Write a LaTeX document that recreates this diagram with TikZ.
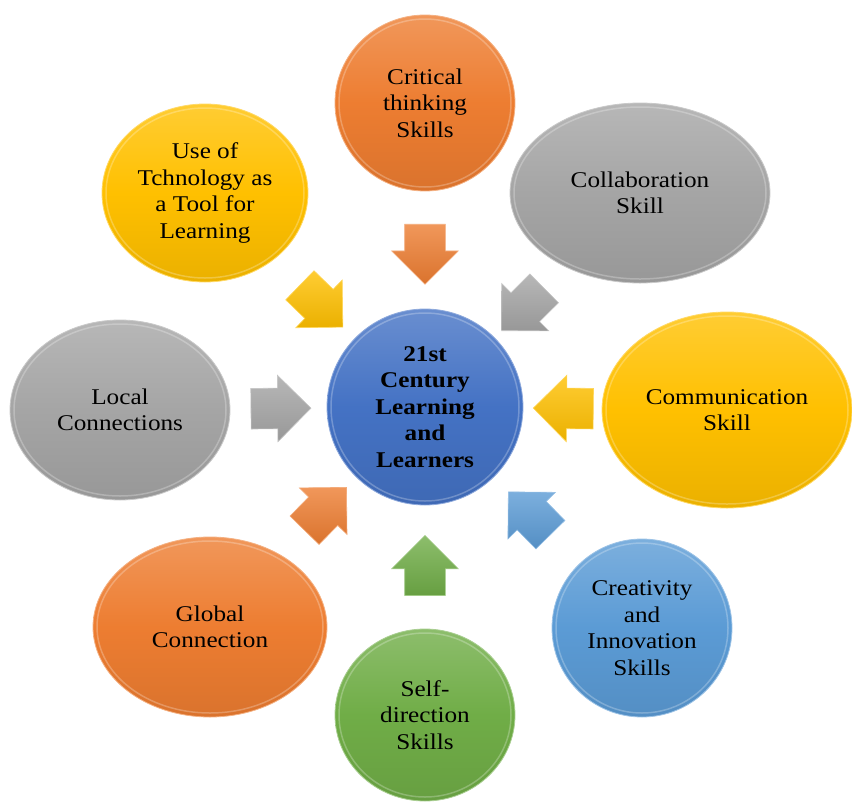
\documentclass[tikz,border=0pt]{standalone}
\usepackage{fontspec}
\setmainfont{Liberation Serif}[FakeStretch=1.12]
\usetikzlibrary{shapes.geometric,shapes.arrows}

\definecolor{orng}{HTML}{ED7D31}
\definecolor{gry}{HTML}{A5A5A5}
\definecolor{ylw}{HTML}{FFC000}
\definecolor{blu}{HTML}{4472C4}
\definecolor{lblu}{HTML}{5B9BD5}
\definecolor{grn}{HTML}{70AD47}

\begin{document}
\begin{tikzpicture}[x=1pt,y=-1pt]
    \tikzset{bubble/.style n args={3}{shape=ellipse, minimum width=#1, minimum height=#2, inner sep=0pt, align=center,
        top color=#3!80!white, bottom color=#3!92!black, middle color=#3, draw=#3!60!white, line width=0.8pt,
        font=\fontsize{22.5}{26.5}\selectfont,
        path picture={\draw[white, opacity=0.25, line width=1.5pt] (path picture bounding box.center) ellipse [x radius=#1/2-4pt, y radius=#2/2-4pt];}}}
    \tikzset{blockarrow/.style={shape=single arrow, draw=#1!65!white, line width=0.6pt, minimum height=60pt, minimum width=66pt,
        single arrow head extend=13pt, inner xsep=0pt, inner ysep=20pt, sloped, allow upside down,
        top color=#1!80!white, bottom color=#1!92!black}}

    \useasboundingbox (0,0) rectangle (852,804);

    % bubbles
    \node[bubble={196pt}{196pt}{blu}, font=\fontsize{22.5}{26.5}\selectfont\bfseries] (hub) at (425,407) {21st\\Century\\Learning\\and\\Learners};
    \node[bubble={180pt}{176pt}{orng}] (crit) at (425,103) {Critical\\thinking\\Skills};
    \node[bubble={260pt}{180pt}{gry}] (collab) at (640,193) {Collaboration\\Skill};
    \node[bubble={250pt}{196pt}{ylw}] (comm) at (727,410) {Communication\\Skill};
    \node[bubble={180pt}{178pt}{lblu}] (creat) at (642,628) {Creativity\\and\\Innovation\\Skills};
    \node[bubble={180pt}{172pt}{grn}] (self) at (425,715) {Self-\\direction\\Skills};
    \node[bubble={234pt}{180pt}{orng}] (glob) at (210,627) {Global\\Connection};
    \node[bubble={220pt}{180pt}{gry}] (local) at (120,410) {Local\\Connections};
    \node[bubble={206pt}{178pt}{ylw}] (tech) at (205,193) {Use of\\Tchnology as\\a Tool for\\Learning};

    % arrows into the hub
    \path (crit) -- node[blockarrow=orng, pos=0.45] (a1) {} (hub);
    \path (collab) -- node[blockarrow=gry] (a2) {} (hub);
    \path (comm) -- node[blockarrow=ylw, pos=0.36] (a3) {} (hub);
    \path (creat) -- node[blockarrow=lblu] (a4) {} (hub);
    \path (self) -- node[blockarrow=grn, pos=0.43] (a5) {} (hub);
    \path (glob) -- node[blockarrow=orng] (a6) {} (hub);
    \path (local) -- node[blockarrow=gry, pos=0.42] (a7) {} (hub);
    \path (tech) -- node[blockarrow=ylw] (a8) {} (hub);
\end{tikzpicture}
\end{document}
